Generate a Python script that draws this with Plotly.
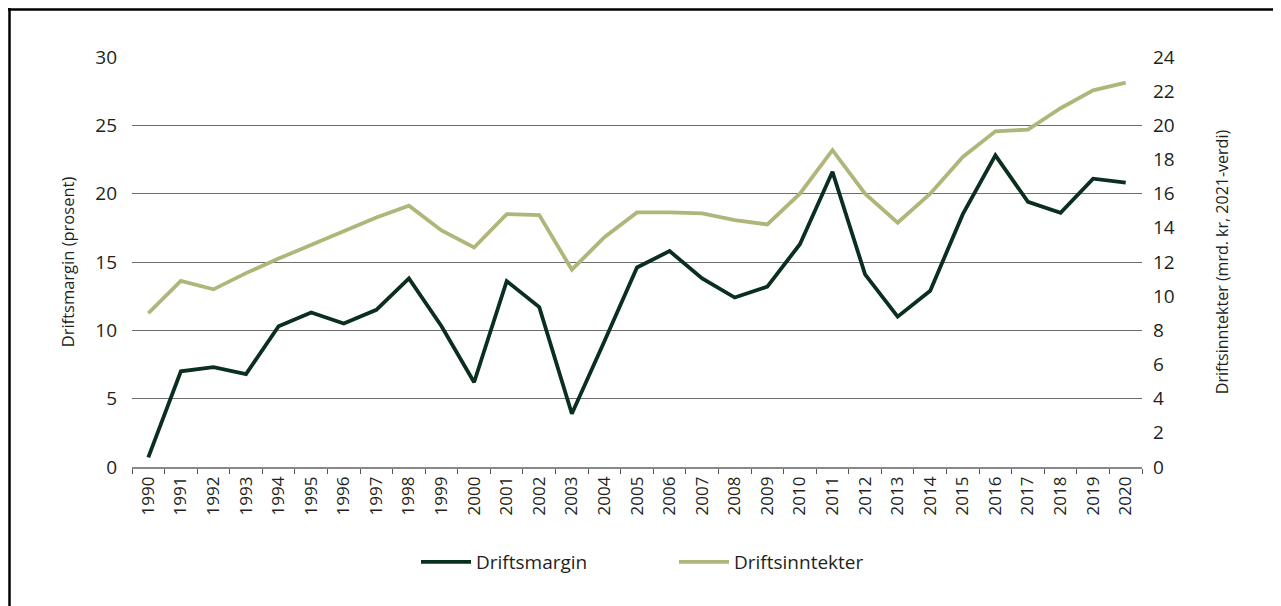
import plotly.graph_objects as go

years = [str(y) for y in range(1990, 2021)]
driftsmargin = [0.7, 7.0, 7.3, 6.8, 10.3, 11.3, 10.5, 11.5, 13.8, 10.3,
                6.2, 13.6, 11.7, 3.9, 9.2, 14.6, 15.8, 13.8, 12.4, 13.2,
                16.3, 21.6, 14.1, 11.0, 12.9, 18.5, 22.8, 19.4, 18.6, 21.1,
                20.8]
driftsinntekter = [9.0, 10.9, 10.4, 11.35, 12.2, 13.0, 13.85, 14.6, 15.3, 13.85,
                   12.85, 14.8, 14.75, 11.55, 13.45, 14.9, 14.9, 14.85, 14.45, 14.2,
                   16.0, 18.55, 16.0, 14.3, 16.0, 18.15, 19.65, 19.75, 21.0, 22.05,
                   22.5]
left_ticks = [0, 5, 10, 15, 20, 25, 30]
right_ticks = [0, 2, 4, 6, 8, 10, 12, 14, 16, 18, 20, 22, 24]

DARK = "#0b2f1f"
LIGHT = "#b0b67a"
FONT = "Open Sans"
TXT = "#231f20"

fig = go.Figure()
fig.add_trace(go.Scatter(x=years, y=driftsmargin, name="Driftsmargin",
                         mode="lines", line=dict(color=DARK, width=3.8),
                         yaxis="y"))
fig.add_trace(go.Scatter(x=years, y=driftsinntekter, name="Driftsinntekter",
                         mode="lines", line=dict(color=LIGHT, width=3.8),
                         yaxis="y2"))

# page has an 8px body margin: figure origin sits at page (8, 8)
O = 8
W, H = 1281 - O, 606 - O
L, T = 132 - O, 57 - O
R, B = 1281 - 1142, 606 - 467
pw, ph = W - L - R, H - T - B


def px(x):
    return (x - O - L) / pw


def py(y):
    return (H + O - B - y) / ph


fig.update_layout(
    width=W, height=H,
    margin=dict(l=L, r=R, t=T, b=B),
    paper_bgcolor="white", plot_bgcolor="white",
    font=dict(family=FONT, size=16, color=TXT),
    xaxis=dict(type="category", range=[-0.5, len(years) - 0.5],
               tickangle=-90, tickson="boundaries",
               ticks="outside", ticklen=5, tickcolor="#555", tickwidth=1,
               showline=True, linecolor="#888", linewidth=1.5,
               showgrid=False, tickfont=dict(size=17), ticklabelstandoff=1),
    yaxis=dict(range=[0, 30], tickvals=left_ticks, showgrid=True,
               gridcolor="#6e6e6e", gridwidth=1.2, zeroline=False,
               title=dict(text="Driftsmargin (prosent)", standoff=16,
                         font=dict(size=16.5)),
               ticks="", ticklabelstandoff=14, tickfont=dict(size=19)),
    yaxis2=dict(range=[0, 24], tickvals=right_ticks, overlaying="y",
                side="right", showgrid=False, zeroline=False,
                title=dict(text="Driftsinntekter (mrd. kr, 2021-verdi)",
                           standoff=42, font=dict(size=16)),
                ticks="", ticklabelstandoff=10, tickfont=dict(size=19)),
    legend=dict(orientation="h", x=px(674), xanchor="center", y=py(562),
                yanchor="middle", font=dict(size=19), entrywidth=193,
                itemwidth=50, bgcolor="rgba(0,0,0,0)"),
    showlegend=True,
    shapes=[
        dict(type="line", xref="paper", yref="paper", x0=px(9.5), x1=px(9.5),
             y0=py(8), y1=py(620), line=dict(color="black", width=2.5)),
        dict(type="line", xref="paper", yref="paper", x0=px(8), x1=px(1290),
             y0=py(9.5), y1=py(9.5), line=dict(color="black", width=2.5)),
    ],
)

fig.write_html("out.html")
